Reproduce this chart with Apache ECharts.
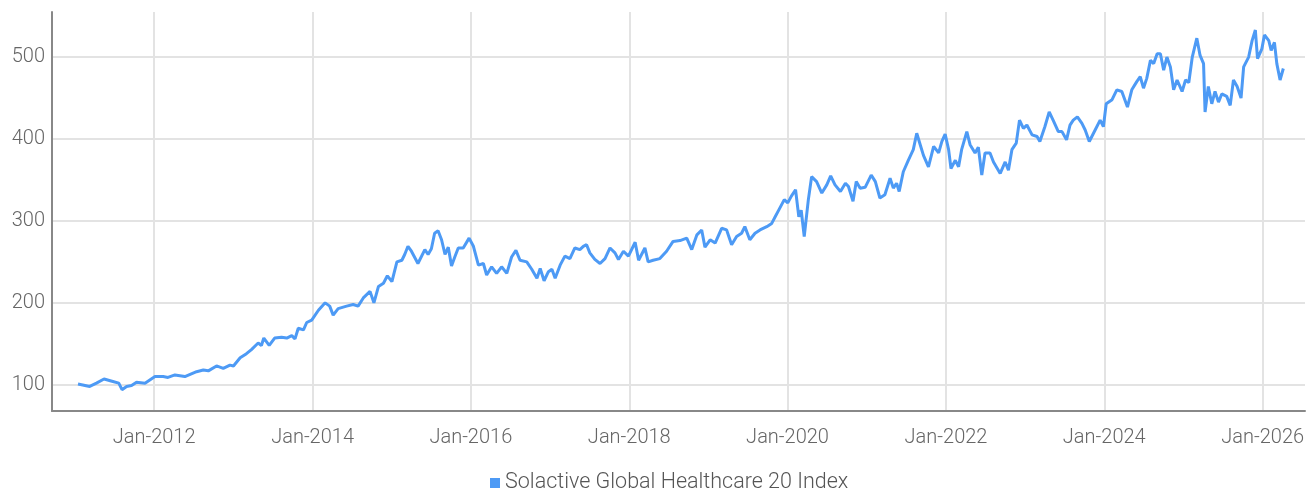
<!DOCTYPE html>
<html>
<head>
<meta charset="utf-8">
<script src="https://cdn.jsdelivr.net/npm/echarts@6/dist/echarts.min.js"></script>
<style>
html,body{margin:0;padding:0;background:#fff;}
#chart{width:1316px;height:496px;}
</style>
</head>
<body>
<div id="chart"></div>
<script>
const seriesName = 'Solactive Global Healthcare 20 Index';
const dates = [
'2011-01-15','2011-03-10','2011-04-10','2011-05-15','2011-06-25','2011-07-22','2011-08-06','2011-08-27','2011-09-19','2011-10-12','2011-11-20',
'2012-01-05','2012-02-12','2012-03-05','2012-04-06','2012-05-22','2012-07-15','2012-08-15','2012-09-07','2012-10-15','2012-11-15','2012-12-16',
'2013-01-01','2013-02-01','2013-03-02','2013-03-25','2013-04-25','2013-05-10','2013-05-21','2013-06-15','2013-07-10','2013-08-11','2013-09-04','2013-09-27','2013-10-12','2013-10-27','2013-11-20','2013-12-05','2013-12-28',
'2014-01-05','2014-01-28','2014-02-28','2014-03-21','2014-04-06','2014-04-29','2014-06-07','2014-07-07','2014-07-30','2014-08-23','2014-09-23','2014-10-11','2014-11-01','2014-11-24','2014-12-12',
'2015-01-02','2015-01-25','2015-02-17','2015-03-02','2015-03-17','2015-04-02','2015-05-02','2015-06-03','2015-06-18','2015-07-03','2015-07-18','2015-08-03','2015-08-19','2015-09-04','2015-09-19','2015-10-04','2015-10-19','2015-11-04','2015-11-27','2015-12-24',
'2016-01-13','2016-02-05','2016-02-28','2016-03-14','2016-04-06','2016-04-29','2016-05-22','2016-06-15','2016-07-07','2016-07-27','2016-08-15','2016-09-15','2016-10-08','2016-11-01','2016-11-16','2016-12-04','2016-12-24',
'2017-01-09','2017-01-24','2017-02-16','2017-03-10','2017-04-02','2017-04-25','2017-05-18','2017-06-03','2017-06-18','2017-07-03','2017-07-26','2017-08-19','2017-09-11','2017-10-04','2017-10-27','2017-11-12','2017-12-05','2017-12-28',
'2018-01-28','2018-02-13','2018-03-14','2018-03-29','2018-04-21','2018-05-22','2018-06-22','2018-07-22','2018-08-23','2018-09-23','2018-10-16','2018-11-09','2018-12-01','2018-12-16',
'2019-01-09','2019-02-01','2019-03-03','2019-03-26','2019-04-18','2019-05-11','2019-06-03','2019-06-18','2019-07-11','2019-08-04','2019-08-27','2019-09-27','2019-10-20','2019-11-05','2019-11-25','2019-12-17',
'2020-01-02','2020-01-18','2020-02-07','2020-02-22','2020-03-04','2020-03-18','2020-04-06','2020-04-21','2020-05-14','2020-06-07','2020-06-30','2020-07-18','2020-08-07','2020-09-01','2020-09-24','2020-10-08','2020-10-29','2020-11-13','2020-12-01','2020-12-24',
'2021-01-21','2021-02-09','2021-03-02','2021-03-25','2021-04-18','2021-05-03','2021-05-18','2021-05-30','2021-06-18','2021-07-11','2021-08-03','2021-08-19','2021-09-04','2021-09-19','2021-10-12','2021-11-05','2021-11-28','2021-12-13','2021-12-28',
'2022-01-13','2022-01-24','2022-02-13','2022-02-28','2022-03-14','2022-04-07','2022-04-22','2022-05-15','2022-05-30','2022-06-15','2022-06-30','2022-07-23','2022-08-08','2022-09-08','2022-10-01','2022-10-16','2022-11-01','2022-11-21','2022-12-06','2022-12-24',
'2023-01-09','2023-02-02','2023-02-25','2023-03-10','2023-04-02','2023-04-22','2023-05-10','2023-06-03','2023-06-20','2023-07-11','2023-07-27','2023-08-11','2023-08-30','2023-09-20','2023-10-05','2023-10-24','2023-11-20','2023-12-13','2023-12-28',
'2024-01-10','2024-02-06','2024-02-28','2024-03-22','2024-04-17','2024-05-07','2024-05-30','2024-06-15','2024-06-30','2024-07-15','2024-08-01','2024-08-16','2024-09-01','2024-09-16','2024-10-01','2024-10-16','2024-11-01','2024-11-16','2024-12-02','2024-12-25',
'2025-01-10','2025-01-25','2025-02-10','2025-03-03','2025-03-18','2025-04-03','2025-04-10','2025-04-25','2025-05-11','2025-05-26','2025-06-11','2025-06-26','2025-07-19','2025-08-04','2025-08-19','2025-09-05','2025-09-23','2025-10-05','2025-10-28','2025-11-13','2025-11-28','2025-12-08','2025-12-28',
'2026-01-09','2026-01-29','2026-02-09','2026-02-24','2026-03-07','2026-03-22','2026-04-06'
];
const values = [
101,98,102,107,104,102,94,98,99,103,102,
110,110,109,112,110,116,118,117,123,120,124,
123,133,138,143,151,148,157,148,157,158,157,160,156,169,167,176,179,
181,191,200,196,185,193,196,198,196,206,214,200,220,224,233,
226,250,252,259,269,263,248,265,259,266,285,288,277,259,268,245,256,267,267,279,
269,246,248,234,244,236,244,236,256,264,252,250,241,230,242,227,238,
241,230,246,257,254,267,265,269,271,261,253,248,254,267,261,253,263,257,
274,252,267,250,252,254,263,275,276,279,265,283,289,268,
277,273,291,289,271,281,285,293,277,285,289,293,297,305,315,326,
322,330,338,305,313,281,326,354,348,334,344,355,344,336,346,342,324,348,340,341,
356,348,328,332,352,340,346,336,360,374,387,407,393,380,366,391,383,397,406,
387,364,374,366,387,409,393,383,390,356,383,383,372,358,372,362,387,395,423,413,
417,405,403,397,415,433,423,409,409,399,417,423,427,419,411,397,411,423,415,
443,448,460,458,439,460,470,476,462,474,496,492,504,504,484,500,488,460,472,458,
472,469,500,523,502,492,433,464,443,458,445,455,452,441,472,464,450,488,500,520,533,498,510,
527,520,508,518,492,472,486
];
const xTicks = ['2012-01-01','2014-01-01','2016-01-01','2018-01-01','2020-01-01','2022-01-01','2024-01-01','2026-01-01'];
const yTicks = [100,200,300,400,500];
const xRange = ['2010-09-17','2026-07-15'];
const yRange = [68,555];

const months = ['Jan','Feb','Mar','Apr','May','Jun','Jul','Aug','Sep','Oct','Nov','Dec'];
const ts = d => Date.UTC(+d.slice(0,4), +d.slice(5,7)-1, +d.slice(8,10));
const FONT = 'Roboto';
const chart = echarts.init(document.getElementById('chart'), null, {renderer:'canvas'});
chart.setOption({
  animation:false,
  grid:{left:52,right:11,top:12,bottom:85,containLabel:false},
  legend:{
    top:472,left:490,icon:'rect',itemWidth:10,itemHeight:10,itemGap:10,padding:0,
    textStyle:{fontFamily:FONT,fontSize:21.5,fontWeight:300,color:'#555'},
    data:[seriesName]
  },
  xAxis:{
    type:'value',
    min:ts(xRange[0]),max:ts(xRange[1]),
    axisLine:{show:true,onZero:false,lineStyle:{color:'#888',width:2}},
    axisTick:{show:false,customValues:xTicks.map(ts)},
    axisLabel:{
      customValues:xTicks.map(ts),
      margin:17,fontFamily:FONT,fontSize:20,fontWeight:300,color:'#666',
      formatter:function(v){const d=new Date(v);return months[d.getUTCMonth()]+'-'+d.getUTCFullYear();}
    },
    splitLine:{show:true,lineStyle:{color:'#e3e3e3',width:2}}
  },
  yAxis:{
    type:'value',
    min:yRange[0],max:yRange[1],
    axisLine:{show:true,lineStyle:{color:'#888',width:2}},
    axisTick:{show:false,customValues:yTicks},
    axisLabel:{customValues:yTicks,margin:7,fontFamily:FONT,fontSize:20,fontWeight:300,color:'#666'},
    splitLine:{show:true,lineStyle:{color:'#e3e3e3',width:2}}
  },
  series:[{
    name:seriesName,type:'line',showSymbol:false,symbol:'none',
    data:dates.map((d,i)=>[ts(d),values[i]]),
    lineStyle:{color:'#4d9af5',width:3},
    itemStyle:{color:'#4d9af5'}
  }]
});
</script>
</body>
</html>
